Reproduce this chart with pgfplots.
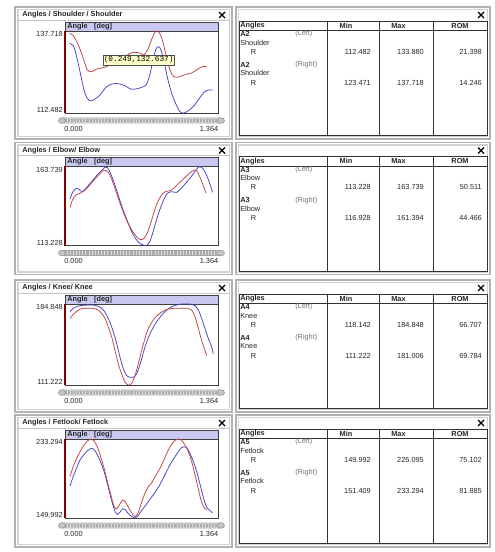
\documentclass[border=0pt]{standalone}
\usepackage{pgfplots}
\pgfplotsset{compat=1.18}
\usepackage{fontspec}
\setmainfont{Liberation Sans}
\newfontfamily\mono{Liberation Mono}
\definecolor{cred}{RGB}{192,64,64}
\definecolor{cblue}{RGB}{64,64,200}
\definecolor{hdr}{RGB}{200,200,240}
\definecolor{dred}{RGB}{128,0,0}
\definecolor{tipbg}{RGB}{255,255,204}
\newcommand\tfont{\fontsize{5.5}{6.5}\selectfont}
\newcommand\xclose[2]{\draw[line width=1.0pt] ({#1-3},{#2-3})--({#1+3},{#2+3}) ({#1-3},{#2+3})--({#1+3},{#2-3});}
% #1 offset, #2 title, #3 top label, #4 bottom label, #5 data bottom (relative)
\newcommand\leftpanel[5]{%
\begin{scope}[shift={(0,#1)}]
 \draw[gray!60, line width=0.8] (15,7) rectangle (232,139);
 \draw[gray!35, line width=0.8] (18,9.5) rectangle (229.5,136.5);
 \draw[gray!45, line width=0.5] (18,20) -- (229.5,20);
 \node[anchor=west,font=\tfont\bfseries] at (22,15) {#2};
 \xclose{222}{15}
 \fill[hdr] (65,22) rectangle (218,31);
 \node[anchor=west,font=\tfont\bfseries] at (67,26.5) {Angle\hspace{0.9em}[deg]};
 \draw[black!75, line width=0.6] (65,22) rectangle (218,#5);
 \draw[black!75, line width=0.6] (65,31) -- (218,31);
 \draw[dred, line width=1.1] (65,31) -- (65,#5);
 \node[anchor=east] at (63,34) {#3};
 \node[anchor=east] at (63,{#5-3}) {#4};
 \draw[gray!70, fill=gray!25, rounded corners=2] (60,{#5+5}) rectangle (223,{#5+10});
 \draw[gray!65, line width=2.4pt, dash pattern=on 0.45pt off 0.65pt] (65,{#5+7.5}) -- (218,{#5+7.5});
 \filldraw[fill=gray!45, draw=gray!80, line width=0.5] (62,{#5+7.5}) ellipse [x radius=3.5, y radius=2.8];
 \filldraw[fill=gray!45, draw=gray!80, line width=0.5] (221,{#5+7.5}) ellipse [x radius=3.5, y radius=2.8];
 \node at (73.5,{#5+15.5}) {0.000};
 \node at (209,{#5+15.5}) {1.364};
\end{scope}}
% #1 offset, #2 code, #3 name, #4-#9 values
\newcommand\rightpanel[9]{%
\begin{scope}[shift={(0,#1)}]
 \draw[gray!60, line width=0.8] (236,7) rectangle (490,139);
 \draw[gray!35, line width=0.8] (238.5,9.5) rectangle (487.5,136.5);
 \xclose{481}{15}
 \draw[black!80, line width=0.6] (239,21) rectangle (487,135.5);
 \draw[black!80, line width=0.6] (239,30.5) -- (487,30.5);
 \foreach \xx in {327,379,433} {\draw[black!80, line width=0.6] (\xx,21) -- (\xx,135.5);}
 \node[anchor=west,font=\tfont\bfseries] at (240,25.8) {Angles};
 \node[font=\tfont\bfseries] at (346,25.8) {Min};
 \node[font=\tfont\bfseries] at (398.5,25.8) {Max};
 \node[font=\tfont\bfseries] at (460,25.8) {ROM};
 \node[anchor=west,font=\tfont\bfseries] at (240,34) {#2};
 \node[anchor=west,text=black!55] at (295,34) {(Left)};
 \node[anchor=west] at (240,42.7) {#3};
 \node[anchor=west] at (250.5,51.7) {R};
 \node[anchor=east] at (371,51.7) {#4};
 \node[anchor=east] at (424,51.7) {#5};
 \node[anchor=east] at (482,51.7) {#6};
 \node[anchor=west,font=\tfont\bfseries] at (240,64.8) {#2};
 \node[anchor=west,text=black!55] at (295,64.8) {(Right)};
 \node[anchor=west] at (240,73.3) {#3};
 \node[anchor=west] at (250.5,82.7) {R};
 \node[anchor=east] at (371,82.7) {#7};
 \node[anchor=east] at (424,82.7) {#8};
 \node[anchor=east] at (482,82.7) {#9};
\end{scope}}
\pgfplotsset{rowax/.style={hide axis, scale only axis, width=114.75pt, xmin=0, xmax=1.364, clip=false, anchor=south west},
 rr/.style={cred, line width=0.55pt, smooth, no markers},
 bb/.style={cblue, line width=0.55pt, smooth, no markers}}
\begin{document}
\begin{tikzpicture}
\begin{scope}[x=0.75pt,y=-0.75pt, every node/.style={font=\tfont, inner sep=0pt, text=black!85}]
 \fill[white] (0,0) rectangle (494,552);
 \path[use as bounding box] (0,0) rectangle (494,552);
 \leftpanel{0}{Angles / Shoulder / Shoulder}{137.718}{112.482}{113}
 \leftpanel{135.5}{Angles / Elbow/ Elbow}{163.739}{113.228}{110}
 \leftpanel{273}{Angles / Knee/ Knee}{184.848}{111.222}{112}
 \leftpanel{408}{Angles / Fetlock/ Fetlock}{233.294}{149.992}{110}
 \rightpanel{0}{A2}{Shoulder}{112.482}{133.880}{21.398}{123.471}{137.718}{14.246}
 \rightpanel{135.5}{A3}{Elbow}{113.228}{163.739}{50.511}{116.928}{161.394}{44.466}
 \rightpanel{273}{A4}{Knee}{118.142}{184.848}{66.707}{111.222}{181.006}{69.784}
 \rightpanel{408}{A5}{Fetlock}{149.992}{225.095}{75.102}{151.409}{233.294}{81.885}
\end{scope}
% Row 1 Shoulder
\begin{axis}[rowax, at={(48.75pt,-84.75pt)}, height=61.5pt, ymin=112.482, ymax=137.718]
\addplot[bb] coordinates {(0.039,133.88)(0.074,133.20)(0.104,129.82)(0.140,124.17)(0.169,119.56)(0.199,116.99)(0.229,116.17)(0.267,116.79)(0.312,118.02)(0.371,120.58)(0.431,121.51)(0.490,121.40)(0.544,120.69)(0.585,119.87)(0.633,119.87)(0.683,120.38)(0.722,121.10)(0.752,123.66)(0.782,128.28)(0.808,131.87)(0.832,132.90)(0.856,131.87)(0.886,127.77)(0.915,123.15)(0.951,118.53)(0.990,115.15)(1.025,112.89)(1.061,112.48)(1.108,113.40)(1.150,114.73)(1.198,116.99)(1.239,118.84)(1.278,119.56)(1.316,119.56)};
\addplot[rr] coordinates {(0.039,137.00)(0.074,136.28)(0.119,133.41)(0.163,129.30)(0.199,125.71)(0.238,125.20)(0.282,126.02)(0.342,126.43)(0.401,127.25)(0.461,128.48)(0.520,129.51)(0.565,130.54)(0.609,131.15)(0.669,130.95)(0.704,130.33)(0.743,132.38)(0.782,135.97)(0.811,137.718)(0.838,137.31)(0.868,134.95)(0.897,130.84)(0.927,126.74)(0.957,124.17)(0.990,123.47)(1.031,123.77)(1.079,124.38)(1.120,124.69)(1.159,125.41)(1.204,126.43)(1.239,126.84)(1.263,126.64)};
\end{axis}
% Row 2 Elbow
\begin{axis}[rowax, at={(48.75pt,-184.125pt)}, height=59.25pt, ymin=113.228, ymax=163.739]
\addplot[bb] coordinates {(0.045,142.89)(0.068,147.19)(0.098,149.77)(0.128,148.91)(0.158,147.62)(0.193,150.41)(0.238,154.07)(0.282,157.94)(0.327,161.16)(0.357,163.31)(0.377,163.09)(0.401,160.09)(0.431,154.71)(0.467,147.19)(0.505,138.59)(0.544,131.07)(0.579,124.62)(0.615,119.25)(0.654,115.38)(0.692,113.66)(0.728,113.23)(0.758,116.02)(0.787,122.47)(0.817,129.99)(0.847,136.44)(0.883,142.89)(0.912,146.54)(0.951,147.62)(0.996,147.19)(1.031,149.34)(1.070,152.56)(1.108,155.79)(1.144,159.01)(1.174,162.24)(1.198,163.52)(1.227,162.66)(1.257,159.01)(1.287,153.64)(1.316,147.19)};
\addplot[rr] coordinates {(0.045,137.52)(0.068,142.57)(0.098,145.60)(0.134,146.61)(0.178,148.63)(0.223,152.07)(0.267,155.72)(0.306,158.75)(0.342,161.39)(0.366,161.16)(0.389,159.76)(0.416,155.72)(0.446,149.64)(0.484,141.56)(0.520,134.46)(0.556,128.40)(0.594,123.35)(0.633,119.29)(0.663,117.29)(0.683,116.93)(0.704,117.68)(0.734,121.33)(0.764,127.39)(0.793,134.46)(0.823,140.53)(0.853,144.57)(0.892,147.60)(0.936,148.22)(0.981,150.65)(1.025,153.68)(1.070,156.73)(1.114,159.76)(1.150,161.37)(1.174,161.0)(1.198,157.74)(1.227,152.69)(1.257,146.61)};
\end{axis}
% Row 3 Knee
\begin{axis}[rowax, at={(48.75pt,-288.75pt)}, height=60.75pt, ymin=111.222, ymax=184.848]
\addplot[bb] coordinates {(0.045,177.82)(0.074,180.88)(0.119,183.02)(0.163,183.63)(0.223,183.93)(0.267,183.63)(0.306,182.40)(0.342,179.35)(0.371,174.77)(0.401,168.05)(0.431,159.49)(0.461,148.80)(0.490,136.58)(0.520,125.89)(0.550,119.78)(0.579,118.25)(0.600,118.14)(0.620,118.80)(0.645,122.83)(0.675,131.99)(0.704,142.69)(0.734,151.85)(0.773,161.02)(0.817,168.66)(0.862,174.77)(0.906,179.35)(0.951,182.40)(0.996,183.93)(1.040,184.80)(1.085,184.848)(1.129,184.60)(1.159,183.32)(1.189,179.35)(1.218,171.71)(1.248,162.55)(1.278,153.38)(1.308,145.74)(1.322,139.63)};
\addplot[rr] coordinates {(0.045,171.71)(0.074,175.38)(0.119,179.35)(0.163,180.88)(0.208,181.00)(0.253,180.88)(0.297,179.35)(0.327,176.29)(0.357,171.71)(0.386,164.07)(0.416,154.91)(0.446,142.69)(0.475,130.47)(0.505,121.30)(0.535,113.88)(0.565,111.222)(0.594,112.64)(0.624,119.78)(0.654,130.47)(0.683,142.69)(0.713,153.38)(0.743,162.55)(0.787,170.18)(0.832,175.38)(0.877,178.43)(0.921,180.27)(0.966,180.88)(1.010,181.006)(1.055,181.00)(1.100,180.88)(1.129,179.35)(1.159,173.24)(1.189,162.55)(1.218,151.85)(1.248,142.69)(1.263,138.11)};
\end{axis}
% Row 4 Fetlock
\begin{axis}[rowax, at={(48.75pt,-388.5pt)}, height=59.25pt, ymin=149.992, ymax=233.294]
\addplot[bb] coordinates {(0.045,183.73)(0.074,194.05)(0.104,202.66)(0.134,211.26)(0.178,218.15)(0.223,222.97)(0.244,223.31)(0.267,220.90)(0.297,214.71)(0.327,206.10)(0.357,195.77)(0.386,182.01)(0.416,168.24)(0.446,156.88)(0.467,153.78)(0.490,156.19)(0.514,159.63)(0.538,158.94)(0.565,154.47)(0.594,151.71)(0.624,149.992)(0.654,152.74)(0.683,157.91)(0.722,163.76)(0.758,169.96)(0.802,176.84)(0.847,185.45)(0.892,195.77)(0.936,206.10)(0.981,214.71)(1.010,219.87)(1.040,224.34)(1.061,225.095)(1.085,224.34)(1.114,218.15)(1.144,209.54)(1.174,199.22)(1.204,185.45)(1.233,171.68)(1.263,161.35)(1.293,157.91)(1.316,155.50)};
\addplot[rr] coordinates {(0.045,194.05)(0.074,204.38)(0.104,213.03)(0.134,219.87)(0.169,226.75)(0.208,231.92)(0.238,233.294)(0.259,231.23)(0.288,225.03)(0.318,214.71)(0.348,202.66)(0.377,188.89)(0.407,175.12)(0.437,162.38)(0.461,159.63)(0.490,164.80)(0.514,168.92)(0.538,167.20)(0.565,161.35)(0.594,155.50)(0.624,151.409)(0.654,156.19)(0.683,166.52)(0.713,176.15)(0.743,183.04)(0.773,187.17)(0.802,193.36)(0.832,199.22)(0.862,206.10)(0.892,214.02)(0.921,221.59)(0.951,227.79)(0.981,231.92)(1.010,233.29)(1.040,231.92)(1.070,226.75)(1.100,219.87)(1.129,209.54)(1.159,195.77)(1.189,180.29)(1.218,166.52)(1.248,159.63)(1.263,158.94)};
\end{axis}
\begin{scope}[x=0.75pt,y=-0.75pt]
 \node[draw=black!70, fill=tipbg, line width=0.4pt, inner xsep=0.8pt, inner ysep=1pt, anchor=west, font=\mono\fontsize{5.8}{6.5}\selectfont] at (102.5,60) {(0.249,132.637)};
\end{scope}
\end{tikzpicture}
\end{document}
